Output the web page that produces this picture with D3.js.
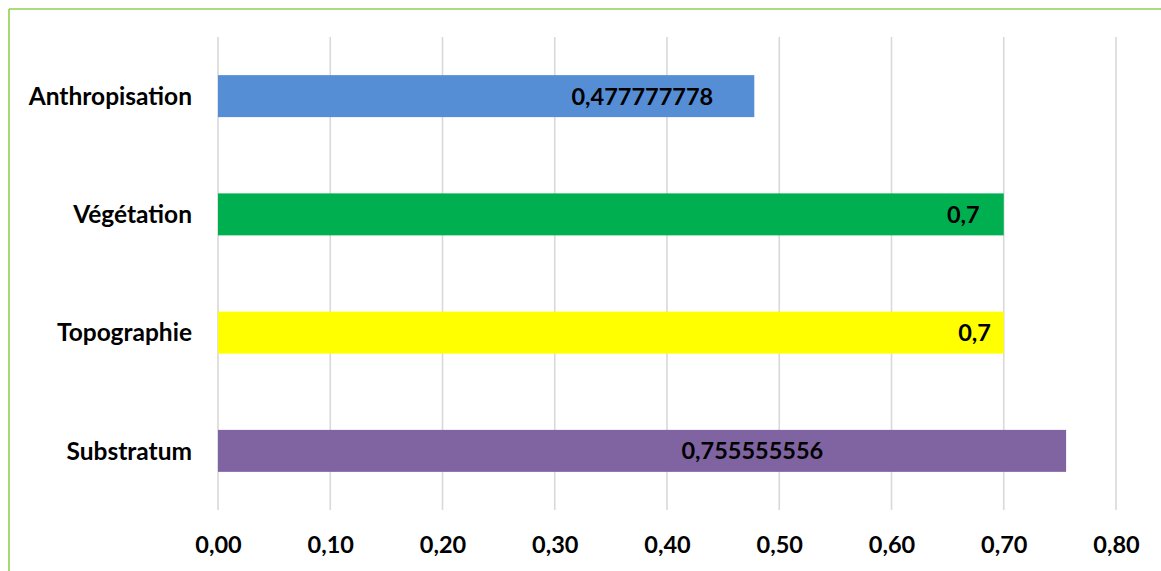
<!DOCTYPE html>
<html>
<head>
<meta charset="utf-8">
<script src="https://cdn.jsdelivr.net/npm/d3@7"></script>
<style>
  html, body { margin: 0; padding: 0; background: #fff; }
  svg { display: block; }
</style>
</head>
<body>
<svg id="chart" width="1161" height="571"></svg>
<script>
const categories = ["Anthropisation", "Végétation", "Topographie", "Substratum"];
const values = [0.477777778, 0.7, 0.7, 0.755555556];
const valueLabels = ["0,477777778", "0,7", "0,7", "0,755555556"];
const barColors = ["#558ED5", "#00B050", "#FFFF00", "#8064A2"];
const tickValues = [0, 0.1, 0.2, 0.3, 0.4, 0.5, 0.6, 0.7, 0.8];
// where each data label is centred, in axis units (labels were placed by hand in the original)
const labelAnchor = [0.378, 0.664, 0.674, 0.476];

(function () {
const svg = d3.select("#chart");
const FONT = "Lato, 'Open Sans', sans-serif";
const plotLeft = 218, plotRight = 1116, plotTop = 37, plotBottom = 510;

const x = d3.scaleLinear().domain([0, 0.8]).range([plotLeft, plotRight]);
const y = d3.scaleBand().domain(categories).range([plotTop, plotBottom]).paddingInner(0.645).paddingOuter(0.3225);

// frame
svg.append("line").attr("x1", 9).attr("y1", 9).attr("x2", 9).attr("y2", 571)
  .attr("stroke", "#92D050").attr("stroke-width", 1.6);
svg.append("line").attr("x1", 9).attr("y1", 9).attr("x2", 1161).attr("y2", 9)
  .attr("stroke", "#92D050").attr("stroke-width", 1.6);

// gridlines
svg.append("g").selectAll("line").data(tickValues).join("line")
  .attr("x1", d => x(d)).attr("x2", d => x(d))
  .attr("y1", plotTop).attr("y2", plotBottom)
  .attr("stroke", "#D9D9D9").attr("stroke-width", 1.6);

// x axis
const xAxis = d3.axisBottom(x).tickValues(tickValues)
  .tickFormat(d => d3.format(".2f")(d).replace(".", ",")).tickSize(0).tickPadding(0);
const gx = svg.append("g").attr("transform", `translate(0,${plotBottom})`).call(xAxis);
gx.select(".domain").remove();
gx.selectAll("text").attr("y", 43).attr("dy", null)
  .attr("font-family", FONT).attr("font-weight", "bold").attr("font-size", 23.5).attr("fill", "#000");

// y axis
const yAxis = d3.axisLeft(y).tickSize(0).tickPadding(0);
const gy = svg.append("g").attr("transform", `translate(192,0)`).call(yAxis);
gy.select(".domain").remove();
gy.selectAll("text").attr("dy", "0.36em")
  .attr("font-family", FONT).attr("font-weight", "bold").attr("font-size", 24.5).attr("fill", "#000");

// bars
svg.append("g").selectAll("rect").data(categories).join("rect")
  .attr("x", x(0))
  .attr("y", d => y(d))
  .attr("width", (d, i) => x(values[i]) - x(0))
  .attr("height", y.bandwidth())
  .attr("fill", (d, i) => barColors[i]);

// value labels
svg.append("g").selectAll("text").data(categories).join("text")
  .attr("x", (d, i) => x(labelAnchor[i]))
  .attr("y", d => y(d) + y.bandwidth() / 2)
  .attr("dy", "0.36em")
  .attr("text-anchor", "middle")
  .attr("font-family", FONT).attr("font-weight", "bold").attr("font-size", 23.5).attr("fill", "#000")
  .text((d, i) => valueLabels[i]);
})();
</script>
</body>
</html>
